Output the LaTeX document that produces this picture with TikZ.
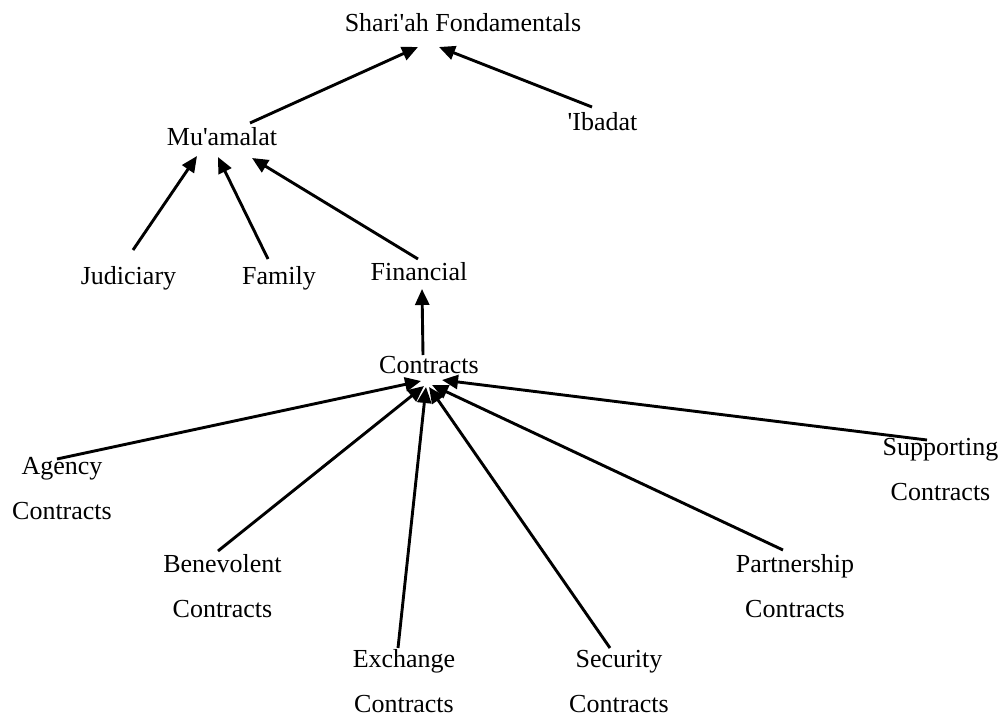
\documentclass[tikz,border=0pt]{standalone}
\usepackage{fontspec}
\setmainfont{Liberation Serif}
\usetikzlibrary{arrows.meta}
\begin{document}
\begin{tikzpicture}[x=1pt,y=-1pt,
  lbl/.style={inner sep=0pt,anchor=base,font=\fontsize{26}{45}\selectfont,align=center},
  link/.style={line width=2.9pt,-{Triangle[length=16pt,width=14pt]}}]
\useasboundingbox (0,0) rectangle (1005,718);

% labels (two-line labels are placed by the baseline of their last line)
\node[lbl] (shariah) at (463,31)   {Shari\textquotesingle ah Fondamentals};
\node[lbl] (muamalat) at (222,145) {Mu\textquotesingle amalat};
\node[lbl] (ibadat) at (602.5,130) {\textquotesingle Ibadat};
\node[lbl] (judiciary) at (128.5,284) {Judiciary};
\node[lbl] (family) at (279,284)   {Family};
\node[lbl] (financial) at (419,280) {Financial};
\node[lbl] (contracts) at (429,373) {Contracts};
\node[lbl] (agency) at (62,519)     {Agency\\Contracts};
\node[lbl] (benevolent) at (222.5,617) {Benevolent\\Contracts};
\node[lbl] (exchange) at (404,712)  {Exchange\\Contracts};
\node[lbl] (security) at (619,712)  {Security\\Contracts};
\node[lbl] (partnership) at (795,617) {Partnership\\Contracts};
\node[lbl] (supporting) at (940.5,500) {Supporting\\Contracts};

% top level
\draw[link] ([shift={(28,-22)}]muamalat.base) -- ([shift={(-45,16)}]shariah.base);
\draw[link] ([shift={(-10.5,-23)}]ibadat.base) -- ([shift={(-24,16)}]shariah.base);

% branches of Mu'amalat
\draw[link] ([shift={(4.5,-34)}]judiciary.base) -- ([shift={(-25,11)}]muamalat.base);
\draw[link] ([shift={(-11,-25)}]family.base) -- ([shift={(-4,12)}]muamalat.base);
\draw[link] ([shift={(-1,-21)}]financial.base) -- ([shift={(30,13)}]muamalat.base);

% contracts
\draw[link] ([shift={(-6,-18)}]contracts.base) -- ([shift={(3,9)}]financial.base);

% kinds of contracts
\draw[link] ([shift={(-5,-60)}]agency.base) -- ([shift={(-8,8)}]contracts.base);
\draw[link] ([shift={(-4.5,-66)}]benevolent.base) -- ([shift={(-5,13)}]contracts.base);
\draw[link] ([shift={(-6,-64)}]exchange.base) -- ([shift={(-3,14)}]contracts.base);
\draw[link] ([shift={(-9,-64)}]security.base) -- ([shift={(0,14)}]contracts.base);
\draw[link] ([shift={(-12,-67)}]partnership.base) -- ([shift={(3,12)}]contracts.base);
\draw[link] ([shift={(-13.5,-60)}]supporting.base) -- ([shift={(13,7)}]contracts.base);
\end{tikzpicture}
\end{document}
